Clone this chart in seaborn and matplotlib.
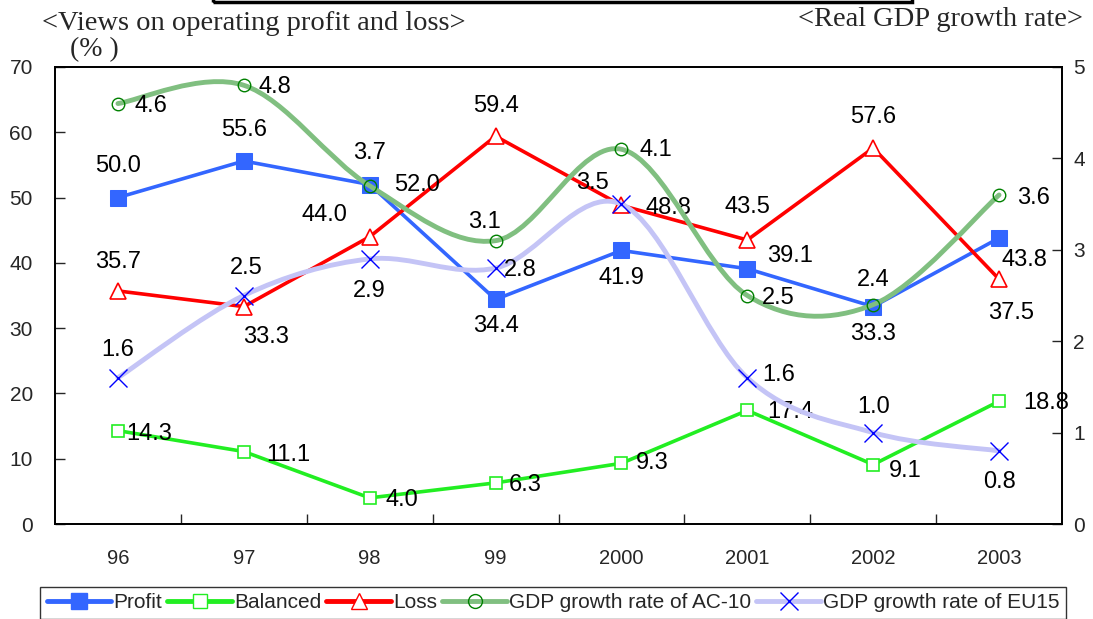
import numpy as np
import matplotlib
matplotlib.use("Agg")
import matplotlib.pyplot as plt
import seaborn as sns
from matplotlib.path import Path
from matplotlib.patches import PathPatch, Rectangle
from matplotlib.lines import Line2D

# data
years = ["96", "97", "98", "99", "2000", "2001", "2002", "2003"]
profit = [50.0, 55.6, 52.0, 34.4, 41.9, 39.1, 33.3, 43.8]
balanced = [14.3, 11.1, 4.0, 6.3, 9.3, 17.4, 9.1, 18.8]
loss = [35.7, 33.3, 44.0, 59.4, 48.8, 43.5, 57.6, 37.5]
gdp_ac10 = [4.6, 4.8, 3.7, 3.1, 4.1, 2.5, 2.4, 3.6]
gdp_eu15 = [1.6, 2.5, 2.9, 2.8, 3.5, 1.6, 1.0, 0.8]

# label offsets in pixels (dx, dy)
off_profit = [(0, 32), (0, 31), (47, 0), (0, -27), (0, -28), (43, 13), (0, -27), (25, -22)]
off_balanced = [(31, -3), (44, -3), (32, -2), (30, -2), (31, 0), (43, -2), (32, -6), (47, -2)]
off_loss = [(0, 29), (22, -30), (-45, 22), (0, 30), (47, -3), (0, 33), (0, 31), (12, -34)]
off_ac10 = [(33, -2), (31, -2), (0, 33), (-11, 19), (34, -1), (31, -2), (0, 25), (34, -3)]
off_eu15 = [(0, 28), (2, 28), (0, -32), (25, -2), (-29, 21), (31, 3), (0, 26), (0, -31)]

sns.set_theme(style="ticks")
plt.rcParams["font.family"] = ["Liberation Sans", "DejaVu Sans"]

fig = plt.figure(figsize=(10.93, 6.19), dpi=100)
ax = fig.add_axes([55 / 1093, 1 - 524 / 619, 1007 / 1093, 457 / 619])
ax2 = ax.twinx()

x = np.arange(len(years))

c_profit = "#3366ff"
c_bal = "#22ee22"
c_loss = "#ff0000"
c_ac_line = "#80bf80"
c_ac_mk = "#008000"
c_eu_line = "#c4c4f6"
c_eu_mk = "#0000ff"

sns.lineplot(x=x, y=profit, ax=ax, color=c_profit, linewidth=2.6, marker="s",
             markersize=12, markeredgecolor=c_profit, markerfacecolor=c_profit)
sns.lineplot(x=x, y=balanced, ax=ax, color=c_bal, linewidth=2.6, marker="s",
             markersize=9, markeredgecolor=c_bal, markerfacecolor="white", markeredgewidth=1.2)
sns.lineplot(x=x, y=loss, ax=ax, color=c_loss, linewidth=2.6, marker="^",
             markersize=11, markeredgecolor=c_loss, markerfacecolor="white", markeredgewidth=1.2)


def smooth_path(xs, ys):
    # Excel-like smoothed line drawn as cubic bezier segments
    pts = list(zip(xs, ys))
    n = len(pts)
    verts = [pts[0]]
    codes = [Path.MOVETO]
    for i in range(n - 1):
        p0 = np.array(pts[max(i - 1, 0)])
        p1 = np.array(pts[i])
        p2 = np.array(pts[i + 1])
        p3 = np.array(pts[min(i + 2, n - 1)])
        c1 = p1 + (p2 - p0) / 6
        c2 = p2 - (p3 - p1) / 6
        verts += [tuple(c1), tuple(c2), tuple(p2)]
        codes += [Path.CURVE4] * 3
    return Path(verts, codes)


ax2.add_patch(PathPatch(smooth_path(x, gdp_ac10), facecolor="none", edgecolor=c_ac_line,
                        linewidth=3.5, capstyle="round"))
ax2.add_patch(PathPatch(smooth_path(x, gdp_eu15), facecolor="none", edgecolor=c_eu_line,
                        linewidth=3.5, capstyle="round"))
sns.lineplot(x=x, y=gdp_ac10, ax=ax2, linewidth=0, marker="o", markersize=9,
             markerfacecolor="none", markeredgecolor=c_ac_mk, markeredgewidth=1.0)
sns.lineplot(x=x, y=gdp_eu15, ax=ax2, linewidth=0, marker="x", markersize=13,
             markeredgecolor=c_eu_mk, markeredgewidth=1.0)


def labels(axis, vals, offs, fmt="{:.1f}"):
    for xi, v, (dx, dy) in zip(x, vals, offs):
        axis.annotate(fmt.format(v), (xi, v), xytext=(dx, dy), textcoords="offset pixels",
                      ha="center", va="center", fontsize=17, color="black", zorder=10)


labels(ax, profit, off_profit)
labels(ax, balanced, off_balanced)
labels(ax, loss, off_loss)
labels(ax2, gdp_ac10, off_ac10)
labels(ax2, gdp_eu15, off_eu15)

ax.set_xlim(-0.5, 7.5)
ax.set_ylim(0, 70)
ax2.set_ylim(0, 5)
ax.set_yticks(range(0, 71, 10))
ax2.set_yticks(range(0, 6))
ax.set_xticks(np.arange(0.5, 7, 1))
ax.set_xticklabels([])
ax.set_xticks(x, minor=True)
ax.set_xticklabels(years, minor=True)
ax.tick_params(axis="x", which="major", direction="in", length=7, width=1)
ax.tick_params(axis="x", which="minor", length=0, pad=18, labelsize=14.5)
ax.tick_params(axis="y", direction="in", length=7, width=1, pad=16, labelsize=15)
ax2.tick_params(axis="y", direction="in", length=7, width=1, pad=8, labelsize=15)
ax.set_xlabel("")
ax.set_ylabel("")
ax2.set_ylabel("")
for a in (ax, ax2):
    for s in a.spines.values():
        s.set_color("black")
        s.set_linewidth(1.3)

fig.text(42 / 1093, 1 - 23 / 619, "<Views on operating profit and loss>", family="Liberation Serif",
         fontsize=20.5, ha="left", va="center")
fig.text(1083 / 1093, 1 - 19 / 619, "<Real GDP growth rate>", family="Liberation Serif",
         fontsize=20.5, ha="right", va="center")
fig.text(70 / 1093, 1 - 50 / 619, "(% )", family="Liberation Serif", fontsize=20,
         ha="left", va="center")

# cut-off box at the very top
fig.add_artist(Rectangle((213 / 1093, 1 - 2 / 619), 699 / 1093, 0.1, transform=fig.transFigure,
                         fill=False, edgecolor="black", linewidth=2.5))

handles = [
    Line2D([], [], color=c_profit, linewidth=3.5, marker="s", markersize=12),
    Line2D([], [], color=c_bal, linewidth=3.5, marker="s", markersize=10, markerfacecolor="white"),
    Line2D([], [], color=c_loss, linewidth=3.5, marker="^", markersize=11, markerfacecolor="white"),
    Line2D([], [], color=c_ac_line, linewidth=3.5, marker="o", markersize=10,
           markerfacecolor="none", markeredgecolor=c_ac_mk),
    Line2D([], [], color=c_eu_line, linewidth=3.5, marker="x", markersize=13,
           markeredgecolor=c_eu_mk),
]
names = ["Profit", "Balanced", "Loss", "GDP growth rate of AC-10", "GDP growth rate of EU15"]
leg = fig.legend(handles, names, loc="upper center", bbox_to_anchor=(0.506, 1 - 587 / 619),
                 ncol=5, frameon=True, fancybox=False, edgecolor="black", fontsize=15,
                 handlelength=3.1, handletextpad=0.1, columnspacing=0.25, borderpad=0.3,
                 borderaxespad=0)
leg.get_frame().set_linewidth(1.0)

fig.savefig("out.png", dpi=100)
